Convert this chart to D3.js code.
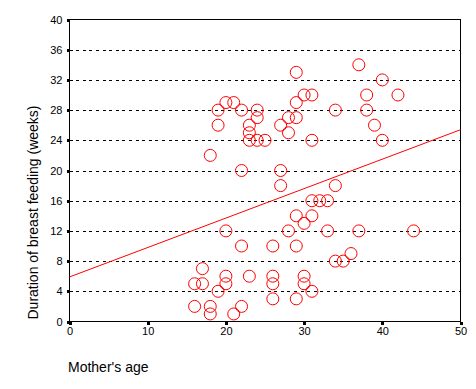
<!DOCTYPE html>
<html>
  <head>
    <meta charset="utf-8">
    <script type="text/javascript" src="https://cdn.jsdelivr.net/npm/d3@7"></script>
    <style type="text/css">
      body { margin: 0; background: #ffffff; }
      text { font-family: "Liberation Sans", Arial, sans-serif; fill: #000000; }
      .axis text { font-size: 11px; }
      .axis line { stroke: #000000; stroke-width: 3; shape-rendering: crispEdges; }
      .grid line { stroke: #000000; stroke-dasharray: 3,3.6; shape-rendering: crispEdges; }
    </style>
  </head>
  <body>
    <script type="text/javascript">
      // Mother's age and weeks of breast feeding, one entry per mother
      var ages =  [29, 30, 31, 29, 20, 21, 19, 22, 24, 24, 28, 29, 19, 23, 23,
                   23, 24, 25, 27, 28, 31, 18, 22, 27, 37, 40, 38, 42, 34, 38,
                   39, 40, 27, 29, 31, 30, 28, 20, 22, 26, 29, 17, 16, 17, 20,
                   20, 19, 23, 26, 26, 26, 29, 30, 30, 31, 16, 18, 18, 21, 22,
                   34, 31, 32, 33, 33, 37, 44, 36, 34, 35];
      var weeks = [33, 30, 30, 29, 29, 29, 28, 28, 28, 27, 27, 27, 26, 26, 25,
                   24, 24, 24, 26, 25, 24, 22, 20, 20, 34, 32, 30, 30, 28, 28,
                   26, 24, 18, 14, 14, 13, 12, 12, 10, 10, 10, 7, 5, 5, 6,
                   5, 4, 6, 6, 5, 3, 3, 6, 5, 4, 2, 2, 1, 1, 2,
                   18, 16, 16, 16, 12, 12, 12, 9, 8, 8];

      var fitAges = [0, 50];
      var fitWeeks = [5.9, 25.4];

      // Tick values of both axes
      var xTicks = [0, 10, 20, 30, 40, 50];
      var yTicks = [0, 4, 8, 12, 16, 20, 24, 28, 32, 36, 40];

      var width = 476;
      var height = 389;

      var svg = d3.select("body").append("svg")
        .attr("width", width).attr("height", height);

      // Scales
      var x = d3.scaleLinear().domain([0, 50]).range([69.5, 460.5]);
      var y = d3.scaleLinear().domain([0, 40]).range([321.5, 19.5]);

      // Dashed horizontal gridlines (not at 0 and 40, those are the frame)
      svg.append("g").attr("class", "grid")
        .selectAll("line")
        .data(yTicks.filter(function(d){ return d > 0 && d < 40; }))
        .enter().append("line")
        .attr("x1", x(0)).attr("x2", x(50))
        .attr("y1", function(d){ return Math.round(y(d)) + 0.5; })
        .attr("y2", function(d){ return Math.round(y(d)) + 0.5; });

      // Axes with small square ticks
      var xAxis = d3.axisBottom(x).tickValues(xTicks).tickSize(3).tickPadding(3);
      var yAxis = d3.axisLeft(y).tickValues(yTicks).tickSize(3).tickPadding(4);

      svg.append("g").attr("class", "axis")
        .attr("transform", "translate(0," + y(0) + ")")
        .call(xAxis)
        .call(function(g){ g.select(".domain").remove(); });
      svg.append("g").attr("class", "axis")
        .attr("transform", "translate(" + x(0) + ",0)")
        .call(yAxis)
        .call(function(g){ g.select(".domain").remove(); });

      // Frame round the plot
      svg.append("rect")
        .attr("x", x(0)).attr("y", y(40))
        .attr("width", x(50) - x(0)).attr("height", y(0) - y(40))
        .attr("fill", "none").attr("stroke", "#000000")
        .style("shape-rendering", "crispEdges");

      // Regression line
      svg.append("line")
        .attr("x1", x(fitAges[0])).attr("y1", y(fitWeeks[0]))
        .attr("x2", x(fitAges[1])).attr("y2", y(fitWeeks[1]))
        .attr("stroke", "#ff0000").attr("stroke-width", 1);

      // Open circles, one per mother
      svg.append("g").selectAll("circle")
        .data(d3.range(ages.length))
        .enter().append("circle")
        .attr("cx", function(i){ return x(ages[i]); })
        .attr("cy", function(i){ return y(weeks[i]); })
        .attr("r", 6)
        .attr("fill", "none")
        .attr("stroke", "#ff0000")
        .attr("stroke-width", 1);

      // Axis titles
      svg.append("text")
        .attr("x", 68).attr("y", 371.5)
        .style("font-size", "14px")
        .text("Mother's age");
      svg.append("text")
        .attr("transform", "translate(37.5,212.5) rotate(-90)")
        .style("text-anchor", "middle")
        .style("font-size", "14px")
        .text("Duration of breast feeding (weeks)");
    </script>
  </body>
</html>
